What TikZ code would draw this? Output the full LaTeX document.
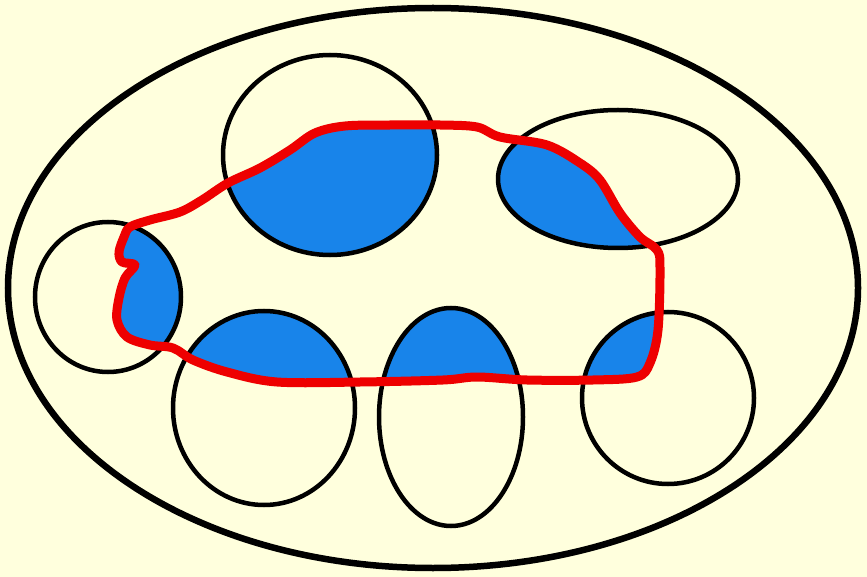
\documentclass[tikz,border=0pt]{standalone}
\definecolor{bgyellow}{RGB}{255,255,221}
\definecolor{setblue}{RGB}{24,132,234}
\definecolor{regred}{RGB}{238,0,0}
\begin{document}
\begin{tikzpicture}[x=1pt,y=-1pt,
  set/.style={draw=black,line width=4.5pt},
  bigset/.style={draw=black,line width=6.5pt},
  region/.style={draw=regred,line width=9pt,line join=round},
  hit/.style={fill=setblue}]
\fill[bgyellow] (0,0) rectangle (867,577);
\useasboundingbox (0,0) rectangle (867,577);
\def\redpath{plot[smooth cycle,tension=0.55] coordinates {
 (130,227) (150,220) (180,212) (202,200) (228,183) (260,168) (290,150) (315,133) (345,126)
 (390,125) (440,125) (477,127)
 (500,137) (547,145) (580,163) (600,180) (620,213) (640,237) (657,250) (660,268)
 (658,330) (650,363) (637,377) (593,380) (527,380) (477,377) (443,380) (360,382) (277,382)
 (227,372) (193,360) (173,348) (150,345) (127,337) (117,320) (119,298) (125,278) (135,265)
 (122,262) (119,252) (124,237)}}
\begin{scope}
\clip \redpath;
\fill[hit] (330,155) ellipse [x radius=107,y radius=100];
\fill[hit] (618,179) ellipse [x radius=120,y radius=69];
\fill[hit] (108,297) ellipse [x radius=73,y radius=75];
\fill[hit] (264,408) ellipse [x radius=91,y radius=97];
\fill[hit] (451,417) ellipse [x radius=72,y radius=109];
\fill[hit] (668,398) ellipse [x radius=86,y radius=86];
\end{scope}
\draw[bigset] (433,288) ellipse [x radius=425,y radius=280];
\draw[set] (330,155) ellipse [x radius=107,y radius=100];
\draw[set] (618,179) ellipse [x radius=120,y radius=69];
\draw[set] (108,297) ellipse [x radius=73,y radius=75];
\draw[set] (264,408) ellipse [x radius=91,y radius=97];
\draw[set] (451,417) ellipse [x radius=72,y radius=109];
\draw[set] (668,398) ellipse [x radius=86,y radius=86];
\draw[region] \redpath;
\end{tikzpicture}
\end{document}
